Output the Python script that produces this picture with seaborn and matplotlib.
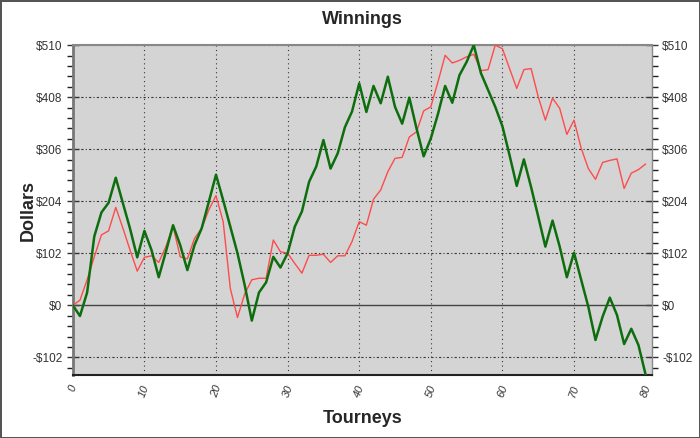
import numpy as np
import pandas as pd
import matplotlib
matplotlib.use('Agg')
import matplotlib.pyplot as plt
import seaborn as sns
from matplotlib.ticker import MultipleLocator, FixedLocator

## data
tourneys = list(range(81))
red_winnings = [0, 10, 50, 95, 138, 146, 192, 151, 108, 67,
                94, 97, 84, 115, 155, 95, 91, 131, 151, 187,
                215, 164, 33, -24, 22, 50, 53, 53, 128, 105,
                102, 82, 63, 98, 98, 100, 84, 97, 97, 125,
                164, 157, 208, 226, 262, 288, 290, 330, 340, 381,
                389, 438, 490, 475, 480, 487, 492, 460, 462, 510,
                503, 464, 425, 462, 464, 409, 363, 406, 386, 335,
                363, 308, 268, 247, 280, 284, 287, 229, 259, 266,
                277]
green_winnings = [0, -21, 25, 135, 182, 201, 250, 200, 150, 94,
                  146, 108, 55, 105, 157, 118, 69, 118, 151, 203,
                  256, 206, 154, 102, 40, -30, 25, 45, 95, 74,
                  102, 154, 184, 242, 272, 324, 268, 298, 349, 380,
                  435, 379, 430, 396, 448, 389, 356, 407, 347, 292,
                  327, 375, 430, 397, 451, 477, 510, 455, 422, 389,
                  351, 294, 234, 286, 232, 174, 115, 166, 115, 55,
                  103, 50, -3, -68, -22, 15, -19, -76, -46, -78,
                  -136]
ytick_values = [-102, 0, 102, 204, 306, 408, 510]
ytick_labels = ['-$102', '$0', '$102', '$204', '$306', '$408', '$510']

data = pd.DataFrame({'tourney': tourneys, 'red': red_winnings, 'green': green_winnings})

## figure
sns.set_style('white')
plt.rcParams['font.family'] = ['Liberation Sans', 'DejaVu Sans']
fig = plt.figure(figsize=(7, 4.38), dpi=100)
fig.patch.set_facecolor('white')
fig.patch.set_edgecolor('#555555')
fig.patch.set_linewidth(2)
ax = fig.add_axes([0.104, 0.144, 0.827, 0.753])
ax.set_facecolor('#d4d4d4')

# grid + zero line
for xv in range(10, 80, 10):
    ax.axvline(xv, color='#333333', lw=0.8, ls=(0, (1, 3)), zorder=1)
for yv in ytick_values:
    if yv != 0:
        ax.axhline(yv, color='#333333', lw=0.8, ls=(0, (2, 2, 1, 2)), zorder=1)
ax.axhline(0, color='#444444', lw=1.0, zorder=1)

sns.lineplot(data=data, x='tourney', y='red', color='#ff4b4b', lw=1.0, ax=ax, zorder=3)
sns.lineplot(data=data, x='tourney', y='green', color='#0e6e0e', lw=1.8, ax=ax, zorder=4)

ax.set_xlim(0, 80.85)
ax.set_ylim(-136.5, 510)

# ticks
ax.xaxis.set_major_locator(MultipleLocator(10))
ax.xaxis.set_minor_locator(MultipleLocator(2))
ax.set_yticks(ytick_values)
ax.set_yticklabels(ytick_labels)
ax.yaxis.set_minor_locator(FixedLocator(np.arange(-122.4, 510, 20.4)))
ax.tick_params(axis='x', which='major', direction='inout', length=8, width=1, colors='#333333',
               labelsize=8, labelrotation=70, pad=2)
ax.tick_params(axis='x', which='minor', direction='out', length=4, width=1, color='#222222')
ax.tick_params(axis='y', which='major', direction='inout', length=8, width=1, colors='#333333',
               labelsize=8.5, left=True, right=True, labelleft=True, labelright=True)
ax.tick_params(axis='y', which='minor', direction='out', length=4, width=1, color='#222222',
               left=True, right=True)
for lab in ax.get_xticklabels():
    lab.set_fontstyle('italic')

for side in ['left', 'bottom', 'right', 'top']:
    ax.spines[side].set_visible(True)
ax.spines['left'].set_color('#777777')
ax.spines['left'].set_linewidth(2)
ax.spines['bottom'].set_color('#222222')
ax.spines['bottom'].set_linewidth(1.5)
ax.spines['top'].set_color('#888888')
ax.spines['top'].set_linewidth(1.5)
ax.spines['right'].set_color('#888888')
ax.spines['right'].set_linewidth(1)

ax.set_title('Winnings', fontsize=13, fontweight='bold', pad=15)
ax.set_xlabel('Tourneys', fontsize=13, fontweight='bold', labelpad=8)
ax.set_ylabel('Dollars', fontsize=13, fontweight='bold')
ax.yaxis.set_label_coords(-0.062, 0.5)

fig.savefig('out.png', dpi=100)
